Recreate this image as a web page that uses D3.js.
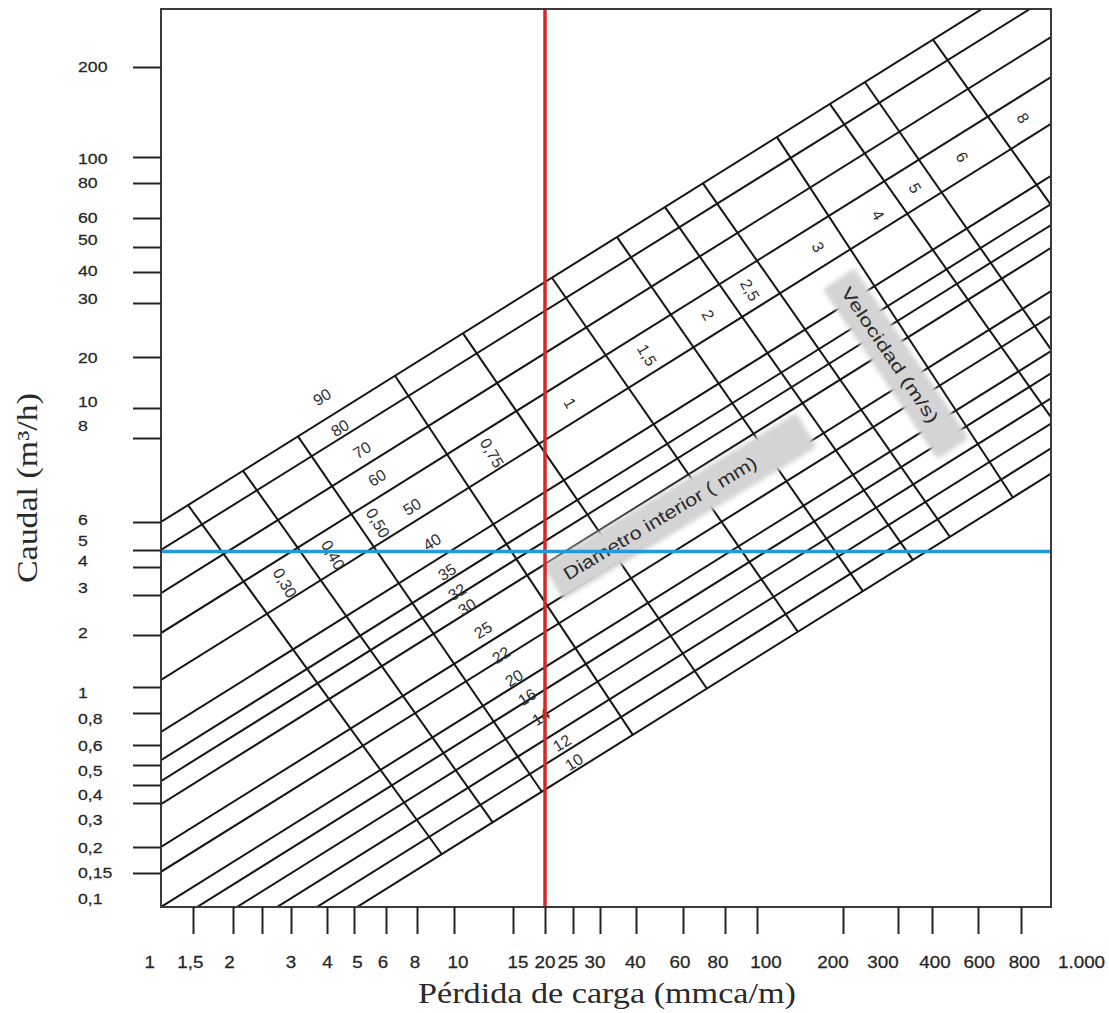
<!DOCTYPE html>
<html>
<head>
<meta charset="utf-8">
<script src="https://cdn.jsdelivr.net/npm/d3@7/dist/d3.min.js"></script>
<style>
 html,body{margin:0;padding:0;background:#fff;}
 svg{display:block;}
</style>
</head>
<body>
<script>
// ---------------- data ----------------
// x axis: head loss (mmca/m)
const lossTicks  = [1,1.5,2,2.5,3,4,5,6,8,10,15,20,25,30,40,60,80,100,200,300,400,600,800,1000];
const lossLabels = ["1","1,5","2","","3","4","5","6","8","10","15","20","25","30","40","60","80","100","200","300","400","600","800","1.000"];
// where each printed label is centred (head-loss value)
const lossLabelAt = [1,1.45,1.95,2.5,3,4.02,5.1,5.9,7.85,10.28,15.7,20,24.0,29.0,39.8,58.5,76.3,107.5,184.5,268.6,410.8,605,820,1000];
// y axis: flow (m3/h)
const flowTicks  = [0.1,0.15,0.2,0.3,0.4,0.5,0.6,0.8,1,2,3,4,5,6,8,10,20,30,40,50,60,80,100,200];
const flowLabels = ["0,1","0,15","0,2","0,3","0,4","0,5","0,6","0,8","1","2","3","4","5","6","8","10","20","30","40","50","60","80","100","200"];
// where each printed label is centred (flow value)
const flowLabelAt = [0.1113,0.1517,0.199,0.2588,0.3464,0.4729,0.6,0.765,0.958,2.062,3.25,4.385,5.32,6.05,8.81,11.0,20,31.4,40.7,52.3,60.4,80.7,99.2,201.5];

// printed (irregular) axis calibration: where each tick sits along the plot
const xCal = [0,32,72,101,130,166,193,225,256,293,352,384,412,439,475,522,564,596,682,737,771,817,860,890];
const yCal = [898,864,838,794,776,756,736,704,678,626,586,558,541,513,429,399,348,294,263,238,209,174,148,58];

// inner-diameter lines: flow read at J = 1 and at J = 1000 mmca/m (extended)
const diamQAt1    = [6.0, 5.0, 3.06, 2.04, 1.098, 0.675, 0.523, 0.418, 0.297, 0.2, 0.152, 0.1, 0.0764, 0.0568, 0.0421, 0.0313, 0.0232];
const diamQAt1000 = [436, 346, 252, 185, 129, 85.0, 67.3, 57.4, 49.6, 33.5, 27.2, 20.9, 16.0, 11.4, 8.91, 7.72, 7.08];

// diameter labels (mm) and where they sit (J, Q)
const diamLabels = ["90","80","70","60","50","40","35","32","30","25","22","20","16","14","12","10"];
const diamLabelJ = [3.843,4.455,5.233,5.70,7.638,8.757,9.587,10.21,10.94,12.21,13.81,15.14,17.01,19.29,22.89,25.17];
const diamLabelQ = [11.61,8.62,7.68,6.98,6.32,5.27,3.80,3.094,2.657,2.104,1.532,1.127,0.918,0.772,0.611,0.514];

// velocity lines (m/s): end on the 90 mm line (top) and the 10 mm line (bottom)
const velLabels = ["0,30","0,40","0,50","0,75","1","1,5","2","2,5","3","4","5","6","8"];
const velTopJ = [1.408, 2.160, 3.172, 6.524, 10.64, 21.14, 34.37, 51.37, 68.8, 117.5, 180.1, 235.2, 403.5];
const velTopQ = [6.36, 7.15, 8.10, 15.49, 23.89, 37.94, 53.21, 65.63, 79.74, 116.5, 150.3, 177.9, 246.8];
const velBotJ = [9.30, 13.07, 19.47, 39.06, 70.7, 139.2, 231.7, 340.5, 468.8, 758.4, 1228, 1566, 2685];
const velBotQ = [0.1841, 0.2504, 0.3577, 0.656, 0.9847, 2.062, 3.116, 4.379, 5.443, 6.52, 7.51, 8.11, 12.63];
const velLabelJ = [2.888, 4.204, 5.733, 12.98, 24.41, 43.99, 71.2, 95.2, 163.5, 258.9, 346.4, 521.2, 812.2];
const velLabelQ = [3.394, 4.683, 5.962, 7.60, 10.70, 20.30, 27.42, 33.84, 50.0, 61.5, 76.8, 100, 135.0];

// reading example
const refLossJ = 20;    // red vertical
const refFlowQ = 4.9;   // blue horizontal

// titles
const xTitle = "Pérdida de carga (mmca/m)";
const yTitle = "Caudal (m³/h)";
const diamTitle = {text:"Diametro interior ( mm)", j:49.2, q:6.08};
const velTitle  = {text:"Velocidad (m/s)", j:282.8, q:20.3};

// ---------------- chart ----------------
const W = 1109, H = 1013;
const M = {l:161, t:9}, PW = 890, PH = 898;
const sans = "'Liberation Sans', Arial, Helvetica, sans-serif";
const serif = "'Liberation Serif', 'Times New Roman', serif";

const svg = d3.select("body").append("svg").attr("width", W).attr("height", H);
svg.append("rect").attr("width", W).attr("height", H).attr("fill", "#fff");

const defs = svg.append("defs");
defs.append("clipPath").attr("id", "plotClip").append("rect").attr("width", PW).attr("height", PH);
defs.append("filter").attr("id", "soft").attr("x", "-10%").attr("y", "-30%").attr("width", "120%").attr("height", "160%")
  .append("feGaussianBlur").attr("stdDeviation", 2);

const g = svg.append("g").attr("transform", `translate(${M.l},${M.t})`);

const xs = d3.scaleLinear().domain(lossTicks.map(Math.log10)).range(xCal);
const ys = d3.scaleLinear().domain(flowTicks.map(Math.log10)).range(yCal);
const X = v => xs(Math.log10(v));
const Y = v => ys(Math.log10(v));

// ---- grid ----
const grid = g.append("g").attr("clip-path", "url(#plotClip)");

const diamData = diamQAt1.map((q, i) => ({q1: q, q2: diamQAt1000[i]}));
grid.append("g").selectAll("line").data(diamData).join("line")
  .attr("x1", X(1)).attr("y1", d => Y(d.q1))
  .attr("x2", X(1000)).attr("y2", d => Y(d.q2))
  .attr("stroke", "#151515").attr("stroke-width", 2);

const velData = velLabels.map((v, i) => ({v, j1: velTopJ[i], q1: velTopQ[i], j2: velBotJ[i], q2: velBotQ[i]}));
grid.append("g").selectAll("line").data(velData).join("line")
  .attr("x1", d => X(d.j1)).attr("y1", d => Y(d.q1))
  .attr("x2", d => X(d.j2)).attr("y2", d => Y(d.q2))
  .attr("stroke", "#151515").attr("stroke-width", 2);

// ---- grey title boxes ----
function boxTitle(t, angle, len, fs, padA, padB, thick) {
  const gg = grid.append("g").attr("transform", `translate(${X(t.j)},${Y(t.q)}) rotate(${angle})`);
  gg.append("rect")
    .attr("x", -len/2 - padA).attr("y", -thick/2)
    .attr("width", len + padA + padB).attr("height", thick)
    .attr("rx", 3).attr("fill", "#d4d4d4").attr("filter", "url(#soft)");
  gg.append("text").text(t.text)
    .attr("text-anchor", "middle").attr("dy", "0.35em")
    .attr("textLength", len).attr("lengthAdjust", "spacingAndGlyphs")
    .attr("font-family", sans).attr("font-size", fs).attr("fill", "#2a2a2a");
}
boxTitle(diamTitle, -31, 222, 18, 14, 60, 40);
boxTitle(velTitle, 56, 160, 17, 12, 33, 38);

// ---- line labels ----
g.append("g").selectAll("text").data(diamLabels.map((t, i) => ({t, j: diamLabelJ[i], q: diamLabelQ[i]})))
  .join("text")
  .attr("transform", d => `translate(${X(d.j)},${Y(d.q)}) rotate(-32)`)
  .attr("text-anchor", "middle").attr("dy", "0.35em")
  .attr("font-family", sans).attr("font-size", 16).attr("fill", "#2e2e2e")
  .text(d => d.t);

g.append("g").selectAll("text").data(velLabels.map((t, i) => ({t, j: velLabelJ[i], q: velLabelQ[i]})))
  .join("text")
  .attr("transform", d => `translate(${X(d.j)},${Y(d.q)}) rotate(60)`)
  .attr("text-anchor", "middle").attr("dy", "0.35em")
  .attr("font-family", sans).attr("font-size", 16).attr("fill", "#2e2e2e")
  .text(d => d.t);

// ---- reference lines ----
g.append("line")
  .attr("x1", X(refLossJ)).attr("x2", X(refLossJ)).attr("y1", 0).attr("y2", PH)
  .attr("stroke", "#d6262b").attr("stroke-width", 3.5);
g.append("line")
  .attr("x1", 0).attr("x2", PW).attr("y1", Y(refFlowQ)).attr("y2", Y(refFlowQ))
  .attr("stroke", "#229ad8").attr("stroke-width", 3.5);

// ---- frame ----
g.append("rect").attr("width", PW).attr("height", PH)
  .attr("fill", "none").attr("stroke", "#3a3a3a").attr("stroke-width", 2);

// ---- x axis ticks & labels ----
const xAxis = d3.axisBottom(xs)
  .tickValues(lossTicks.slice(1, -1).map(Math.log10))
  .tickSize(27).tickSizeOuter(0).tickFormat("");
const xa = g.append("g").attr("transform", `translate(0,${PH})`).call(xAxis);
xa.select(".domain").remove();
xa.selectAll(".tick line").attr("stroke", "#222").attr("stroke-width", 2);

const xl = g.append("g");
lossTicks.forEach((v, i) => {
  if (!lossLabels[i]) return;
  const last = i === lossTicks.length - 1, first = i === 0;
  const px = first ? X(lossLabelAt[i]) - 6 : last ? X(lossLabelAt[i]) + 7 : X(lossLabelAt[i]);
  xl.append("g").attr("transform", `translate(${px},${959})`)
    .append("text").attr("transform", "scale(1.14,1)")
    .attr("text-anchor", first ? "end" : last ? "start" : "middle")
    .attr("font-family", sans).attr("font-size", 16.5).attr("fill", "#262626")
    .attr("stroke", "#262626").attr("stroke-width", 0.25)
    .text(lossLabels[i]);
});

// ---- y axis ticks & labels ----
const yAxis = d3.axisLeft(ys)
  .tickValues(flowTicks.slice(1).map(Math.log10))
  .tickSize(28).tickSizeOuter(0).tickFormat("");
const ya = g.append("g").call(yAxis);
ya.select(".domain").remove();
ya.selectAll(".tick line").attr("stroke", "#222").attr("stroke-width", 2);

const yl = g.append("g");
flowTicks.forEach((v, i) => {
  yl.append("g").attr("transform", `translate(${-83},${Y(flowLabelAt[i])})`)
    .append("text").attr("transform", "scale(1.14,1)")
    .attr("text-anchor", "start").attr("dy", "0.36em")
    .attr("font-family", sans).attr("font-size", 15.5).attr("fill", "#262626")
    .attr("stroke", "#262626").attr("stroke-width", 0.25)
    .text(flowLabels[i]);
});

// ---- axis titles ----
svg.append("text")
  .attr("x", 607).attr("y", 1003)
  .attr("text-anchor", "middle")
  .attr("textLength", 378).attr("lengthAdjust", "spacingAndGlyphs")
  .attr("font-family", serif).attr("font-size", 29).attr("fill", "#2a2a2a")
  .text(xTitle);

svg.append("text")
  .attr("transform", "translate(37,488) rotate(-90)")
  .attr("text-anchor", "middle")
  .attr("textLength", 190).attr("lengthAdjust", "spacingAndGlyphs")
  .attr("font-family", serif).attr("font-size", 29).attr("fill", "#2a2a2a")
  .text(yTitle);
</script>
</body>
</html>
